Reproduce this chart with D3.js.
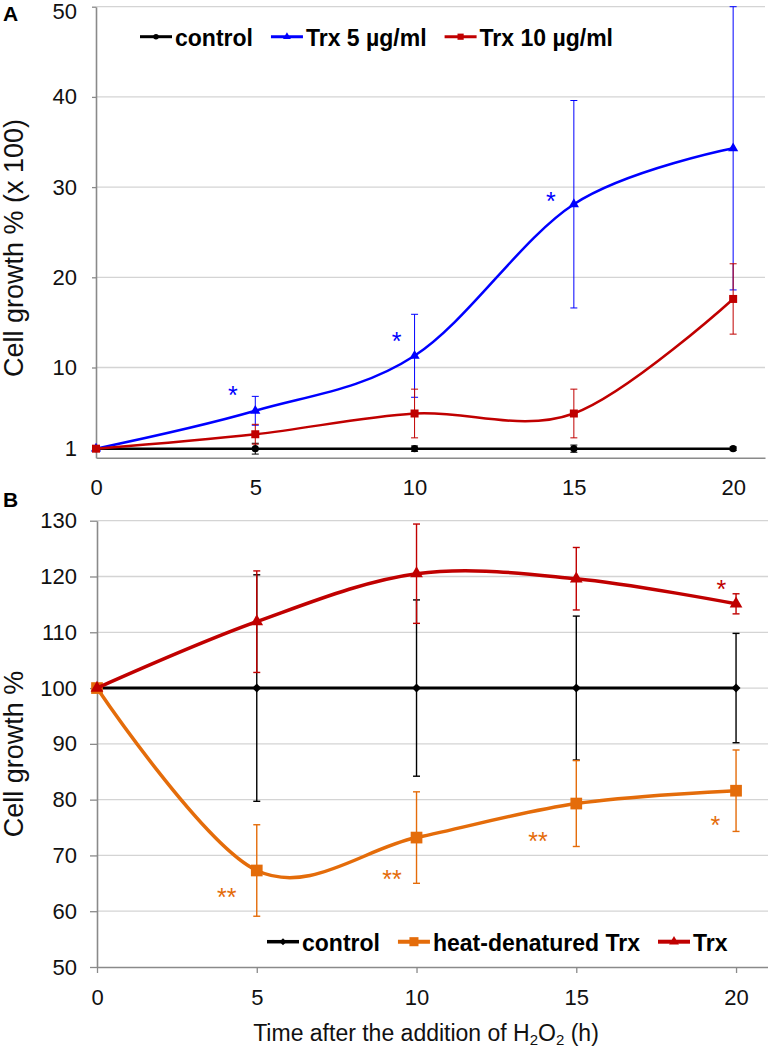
<!DOCTYPE html>
<html>
<head>
<meta charset="utf-8">
<script src="https://cdn.jsdelivr.net/npm/d3@7"></script>
<style>
  body { margin: 0; background: #fff; }
  svg { display: block; font-family: "Liberation Sans", Arial, sans-serif; }
</style>
</head>
<body>
<div id="chart"></div>
<script>
// time points (h)
const hours = [0, 5, 10, 15, 20];
const xTicks = [0, 5, 10, 15, 20];

// panel A, cell growth % (x 100)
const aYTicks = [1, 10, 20, 30, 40, 50];
const aGrid = [10, 20, 30, 40, 50];
const aControl = [1, 1, 1, 1, 1];
const aControlErr = [0, 0.6, 0.3, 0.4, 0.2];
const aTrx5 = [1, 5.2, 11.3, 28.1, 34.3];
const aTrx5Err = [0, 1.6, 4.6, 11.5, 15.7];
const aTrx10 = [1, 2.6, 4.9, 4.9, 17.6];
const aTrx10Err = [0, 1.1, 2.7, 2.7, 3.9];
// significance marks, A
const aStarX = [4.3, 9.44, 14.28];
const aStarY = [7.6, 13.5, 29.1];
const aStarText = ['*', '*', '*'];

// panel B, cell growth %
const bYTicks = [50, 60, 70, 80, 90, 100, 110, 120, 130];
const bControl = [100, 100, 100, 100, 100];
const bControlErr = [0, 20.3, 15.8, 12.9, 9.8];
const bHeat = [100, 67.3, 73.2, 79.3, 81.6];
const bHeatErr = [0, 8.2, 8.2, 7.7, 7.3];
const bTrx = [100, 111.9, 120.5, 119.6, 115.1];
const bTrxErr = [0, 9.1, 8.9, 5.6, 1.8];
// significance marks, B
const bStarX = [4.06, 9.23, 13.8, 19.35, 19.54];
const bStarY = [63.5, 66.8, 73.5, 76.5, 118.8];
const bStarText = ['**', '**', '**', '*', '*'];
const bStarSeries = ['heat', 'heat', 'heat', 'heat', 'trx'];

const BLACK = '#000000', BLUE = '#0000ff', RED = '#c00000', ORANGE = '#e46c0a';

const svg = d3.select('#chart').append('svg')
  .attr('width', 768)
  .attr('height', 1050);

// excel style diamond (square turned 45 deg)
const rhombus = {
  draw(ctx, size) {
    const r = Math.sqrt(size / 2);
    ctx.moveTo(0, -r); ctx.lineTo(r, 0); ctx.lineTo(0, r); ctx.lineTo(-r, 0); ctx.closePath();
  }
};

function drawPanel(p) {
  const x = d3.scaleLinear().domain([0, 21]).range([p.left, p.right]);
  const y = d3.scaleLinear().domain(p.yDomain).range([p.bottom, p.top]);
  const g = svg.append('g');

  // gridlines
  g.append('g').selectAll('line')
    .data(p.grid)
    .join('line')
    .attr('x1', p.left).attr('x2', p.right)
    .attr('y1', d => y(d)).attr('y2', d => y(d))
    .attr('stroke', '#d4d4d4')
    .attr('stroke-width', 1.3);

  // axes
  const yAxis = g.append('g')
    .attr('transform', `translate(${p.left},0)`)
    .call(d3.axisLeft(y).tickValues(p.yTicks).tickSizeInner(p.yTickSize).tickSizeOuter(0).tickPadding(p.yPad));
  const xAxis = g.append('g')
    .attr('transform', `translate(0,${p.bottom})`)
    .call(d3.axisBottom(x).tickValues(xTicks).tickSizeInner(p.xTickSize).tickSizeOuter(0).tickPadding(p.xPad));

  [yAxis, xAxis].forEach(ax => {
    ax.select('.domain').attr('stroke', '#8a8a8a').attr('stroke-width', 1.6);
    ax.selectAll('.tick line').attr('stroke', '#8a8a8a').attr('stroke-width', 1.3);
    ax.selectAll('.tick text')
      .attr('fill', '#111')
      .style('font-size', '22px')
      .style('font-family', '"Liberation Sans", Arial, sans-serif');
  });
  if (p.topLabelShift) {
    yAxis.selectAll('.tick text').filter(d => d === p.yDomain[1]).attr('dy', p.topLabelShift);
  }

  // y title
  g.append('text')
    .attr('transform', `translate(23,${p.titleY}) rotate(-90)`)
    .attr('text-anchor', 'middle')
    .style('font-size', '27px')
    .attr('fill', '#111')
    .text(p.yTitle);

  // panel letter
  g.append('text')
    .attr('x', 3).attr('y', p.letterY)
    .style('font-size', '21px')
    .style('font-weight', 'bold')
    .text(p.letter);

  const line = d3.line()
    .x((d, i) => x(hours[i]))
    .y(d => y(d))
    .curve(d3.curveCardinal.tension(0));

  p.series.forEach(s => {
    const sg = g.append('g');
    sg.append('path')
      .datum(s.values)
      .attr('fill', 'none')
      .attr('stroke', s.color)
      .attr('stroke-width', s.width)
      .attr('d', line);

    // error bars
    const pts = s.values.map((v, i) => ({ x: hours[i], v, e: s.err[i] })).filter(d => d.e > 0);
    const eb = sg.append('g').selectAll('g').data(pts).join('g')
      .attr('stroke', s.color)
      .attr('stroke-width', s.errWidth);
    eb.append('line')
      .attr('x1', d => x(d.x)).attr('x2', d => x(d.x))
      .attr('y1', d => y(d.v - d.e)).attr('y2', d => y(d.v + d.e));
    eb.append('line')
      .attr('x1', d => x(d.x) - 3.5).attr('x2', d => x(d.x) + 3.5)
      .attr('y1', d => y(d.v + d.e)).attr('y2', d => y(d.v + d.e));
    eb.append('line')
      .attr('x1', d => x(d.x) - 3.5).attr('x2', d => x(d.x) + 3.5)
      .attr('y1', d => y(d.v - d.e)).attr('y2', d => y(d.v - d.e));

    sg.append('g').selectAll('path')
      .data(s.values)
      .join('path')
      .attr('transform', (d, i) => `translate(${x(hours[i])},${y(d)})`)
      .attr('d', d3.symbol().type(s.symbol).size(s.size))
      .attr('fill', s.color);
  });

  // asterisks
  g.append('g').selectAll('text')
    .data(p.stars)
    .join('text')
    .attr('x', d => x(d.x))
    .attr('y', d => y(d.y))
    .attr('dy', '0.58em')
    .attr('text-anchor', 'middle')
    .style('font-size', '25px')
    .attr('fill', d => d.color)
    .text(d => d.t);

  // legend
  const lg = g.append('g').attr('transform', `translate(${p.legendX},${p.legendY})`);
  let cx = 0;
  p.series.forEach(s => {
    const item = lg.append('g').attr('transform', `translate(${cx},0)`);
    item.append('line')
      .attr('x1', 0).attr('x2', 32)
      .attr('stroke', s.color)
      .attr('stroke-width', s.width + 0.5);
    item.append('path')
      .attr('transform', 'translate(16,0)')
      .attr('d', d3.symbol().type(s.symbol).size(s.size * 0.6))
      .attr('fill', s.color);
    const t = item.append('text')
      .attr('x', 35).attr('y', 9)
      .style('font-size', '23px')
      .style('font-weight', 'bold')
      .attr('fill', '#000')
      .text(s.name);
    cx += 35 + t.node().getComputedTextLength() + 18;
  });

  return { x, y };
}

drawPanel({
  letter: 'A', letterY: 21,
  left: 96, right: 765, top: 6.7, bottom: 457.7,
  yDomain: [0, 50], yTicks: aYTicks, grid: aGrid,
  yTickSize: 4, yPad: 15, xTickSize: 0, xPad: 22,
  topLabelShift: '0.55em',
  yTitle: 'Cell growth % (x 100)', titleY: 248,
  legendX: 140, legendY: 36.7,
  series: [
    { name: 'control', values: aControl, err: aControlErr, color: BLACK, width: 2.5, errWidth: 1, symbol: d3.symbolCircle, size: 40 },
    { name: 'Trx 5 µg/ml', values: aTrx5, err: aTrx5Err, color: BLUE, width: 2.5, errWidth: 1, symbol: d3.symbolTriangle, size: 45 },
    { name: 'Trx 10 µg/ml', values: aTrx10, err: aTrx10Err, color: RED, width: 2.5, errWidth: 1, symbol: d3.symbolSquare, size: 64 }
  ],
  stars: aStarX.map((v, i) => ({ x: v, y: aStarY[i], t: aStarText[i], color: BLUE }))
});

drawPanel({
  letter: 'B', letterY: 507,
  left: 97, right: 768, top: 520.7, bottom: 967,
  yDomain: [50, 130], yTicks: bYTicks, grid: bYTicks.slice(1),
  yTickSize: 7, yPad: 13, xTickSize: 6, xPad: 16,
  yTitle: 'Cell growth %', titleY: 754,
  legendX: 267, legendY: 941.7,
  series: [
    { name: 'control', values: bControl, err: bControlErr, color: BLACK, width: 3, errWidth: 1.4, symbol: rhombus, size: 40 },
    { name: 'heat-denatured Trx', values: bHeat, err: bHeatErr, color: ORANGE, width: 3.5, errWidth: 1.4, symbol: d3.symbolSquare, size: 137 },
    { name: 'Trx', values: bTrx, err: bTrxErr, color: RED, width: 3.5, errWidth: 1.4, symbol: d3.symbolTriangle, size: 70 }
  ],
  stars: bStarX.map((v, i) => ({ x: v, y: bStarY[i], t: bStarText[i], color: bStarSeries[i] === 'trx' ? RED : ORANGE }))
});

// x axis title
const xt = svg.append('text')
  .attr('x', 426)
  .attr('y', 1041)
  .attr('text-anchor', 'middle')
  .style('font-size', '23px')
  .attr('fill', '#111');
xt.append('tspan').text('Time after the addition of H');
xt.append('tspan').attr('dy', 4).style('font-size', '15px').text('2');
xt.append('tspan').attr('dy', -4).text('O');
xt.append('tspan').attr('dy', 4).style('font-size', '15px').text('2');
xt.append('tspan').attr('dy', -4).text(' (h)');
</script>
</body>
</html>
